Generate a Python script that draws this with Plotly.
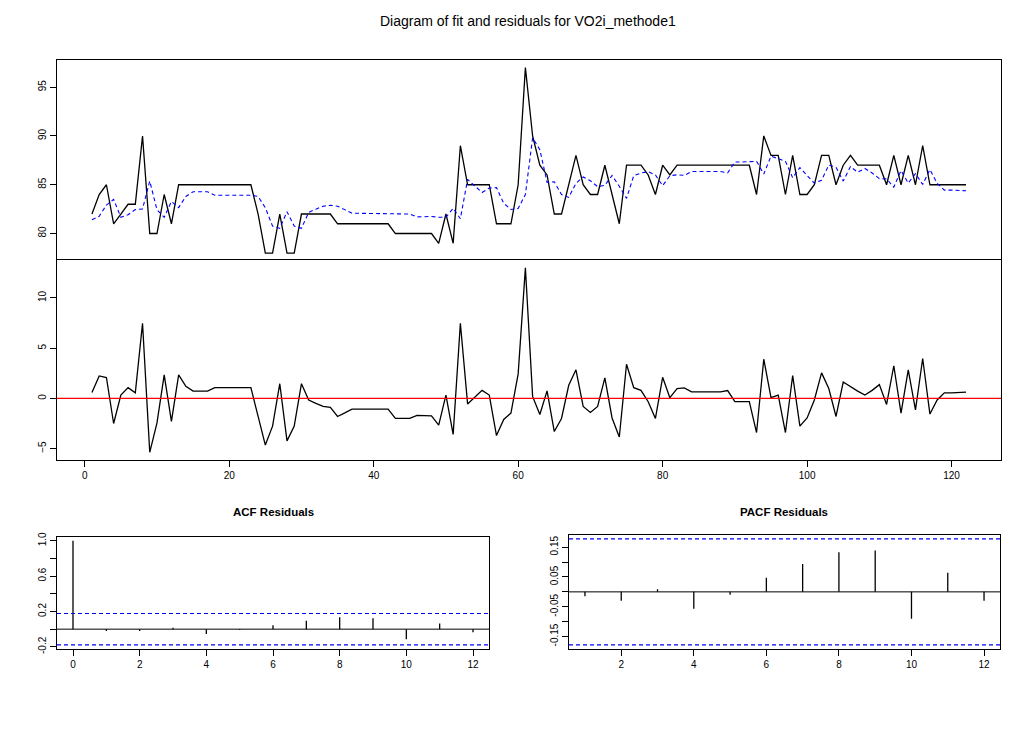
import plotly.graph_objects as go

W, H = 1024, 731

# ---------------- data ----------------
t = list(range(1, 123))
actual = [82, 84, 85, 81, 82, 83, 83, 90, 80, 80,
          84, 81, 85, 85, 85, 85, 85, 85, 85, 85,
          85, 85, 85, 82, 78, 78, 82, 78, 78, 82,
          82, 82, 82, 82, 81, 81, 81, 81, 81, 81,
          81, 81, 80, 80, 80, 80, 80, 80, 79, 82,
          79, 89, 85, 85, 85, 85, 81, 81, 81, 85,
          97, 90, 87, 86, 82, 82, 85, 88, 85, 84,
          84, 87, 84, 81, 87, 87, 87, 86, 84, 87,
          86, 87, 87, 87, 87, 87, 87, 87, 87, 87,
          87, 87, 84, 90, 88, 88, 84, 88, 84, 84,
          85, 88, 88, 85, 87, 88, 87, 87, 87, 87,
          85, 88, 85, 88, 85, 89, 85, 85, 85, 85,
          85, 85]
fitted = [81.41, 81.76, 82.92, 83.50, 81.67, 81.93, 82.45, 82.52, 85.37, 82.44,
          81.66, 83.28, 82.66, 83.80, 84.28, 84.28, 84.28, 83.93, 83.93, 83.93,
          83.93, 83.93, 83.93, 83.80, 82.65, 80.76, 80.54, 82.23, 80.76, 80.54,
          82.16, 82.50, 82.80, 82.90, 82.80, 82.45, 82.07, 82.07, 82.07, 82.07,
          82.07, 82.07, 82.00, 82.00, 82.00, 81.70, 81.70, 81.75, 81.67, 81.67,
          82.58, 81.52, 85.55, 84.90, 84.20, 84.67, 84.70, 83.10, 82.46, 82.56,
          84.00, 89.80, 88.60, 85.25, 85.30, 84.00, 83.70, 85.15, 85.80, 85.40,
          84.80, 84.95, 85.95, 84.84, 83.60, 85.93, 86.20, 86.33, 86.00, 84.90,
          85.93, 86.02, 85.96, 86.35, 86.35, 86.35, 86.35, 86.35, 86.22, 87.33,
          87.33, 87.33, 87.40, 86.10, 87.93, 87.67, 87.40, 85.72, 86.76, 85.95,
          85.16, 85.46, 87.02, 86.80, 85.37, 86.86, 86.28, 86.67, 86.20, 85.63,
          85.60, 84.75, 86.46, 85.17, 86.14, 85.03, 86.56, 85.16, 84.45, 84.45,
          84.45, 84.38]
residuals = [0.59, 2.24, 2.08, -2.50, 0.33, 1.07, 0.55, 7.48, -5.37, -2.44,
             2.34, -2.28, 2.34, 1.20, 0.72, 0.72, 0.72, 1.07, 1.07, 1.07,
             1.07, 1.07, 1.07, -1.80, -4.65, -2.76, 1.46, -4.23, -2.76, 1.46,
             -0.16, -0.50, -0.80, -0.90, -1.80, -1.45, -1.07, -1.07, -1.07, -1.07,
             -1.07, -1.07, -2.00, -2.00, -2.00, -1.70, -1.70, -1.75, -2.67, 0.33,
             -3.58, 7.48, -0.55, 0.10, 0.80, 0.33, -3.70, -2.10, -1.46, 2.44,
             13.00, 0.20, -1.60, 0.75, -3.30, -2.00, 1.30, 2.85, -0.80, -1.40,
             -0.80, 2.05, -1.95, -3.84, 3.40, 1.07, 0.80, -0.33, -2.00, 2.10,
             0.07, 0.98, 1.04, 0.65, 0.65, 0.65, 0.65, 0.65, 0.78, -0.33,
             -0.33, -0.33, -3.40, 3.90, 0.07, 0.33, -3.40, 2.28, -2.76, -1.95,
             -0.16, 2.54, 0.98, -1.80, 1.63, 1.14, 0.72, 0.33, 0.80, 1.37,
             -0.60, 3.25, -1.46, 2.83, -1.14, 3.97, -1.56, -0.16, 0.55, 0.55,
             0.55, 0.62]

acf_lags = [0, 1, 2, 3, 4, 5, 6, 7, 8, 9, 10, 11, 12]
acf_vals = [1.0, -0.02, -0.02, 0.015, -0.055, -0.01, 0.045, 0.095, 0.135, 0.125, -0.115, 0.063, -0.035]
pacf_lags = [1, 2, 3, 4, 5, 6, 7, 8, 9, 10, 11, 12]
pacf_vals = [-0.015, -0.03, 0.009, -0.057, -0.01, 0.047, 0.094, 0.133, 0.139, -0.09, 0.064, -0.03]
ci = 0.178

top_yticks = [80, 85, 90, 95]
res_yticks = [-5, 0, 5, 10]
time_xticks = [0, 20, 40, 60, 80, 100, 120]
acf_yticks = [-0.2, 0.0, 0.2, 0.4, 0.6, 0.8, 1.0]
acf_ytext = ["-0.2", "", "0.2", "", "0.6", "", "1.0"]
pacf_yticks = [-0.15, -0.10, -0.05, 0.0, 0.05, 0.10, 0.15]
pacf_ytext = ["-0.15", "", "-0.05", "", "0.05", "", "0.15"]
acf_xticks = [0, 2, 4, 6, 8, 10, 12]
pacf_xticks = [2, 4, 6, 8, 10, 12]

title = "Diagram of fit and residuals for VO2i_methode1"


def pad(lo, hi, f=0.04):
    d = (hi - lo) * f
    return [lo - d, hi + d]


def spikes(xs, ys):
    X, Y = [], []
    for a, b in zip(xs, ys):
        X += [a, a, None]
        Y += [0, b, None]
    return X, Y


FONT = "Liberation Sans, Arial, sans-serif"
fig = go.Figure()

fig.add_trace(go.Scatter(x=t, y=actual, mode="lines", line=dict(color="black", width=1.3),
                         xaxis="x", yaxis="y", showlegend=False, hoverinfo="skip"))
fig.add_trace(go.Scatter(x=t, y=fitted, mode="lines", line=dict(color="#0000FF", width=1.1, dash="4px,3px"),
                         xaxis="x", yaxis="y", showlegend=False, hoverinfo="skip"))
fig.add_trace(go.Scatter(x=t, y=residuals, mode="lines", line=dict(color="black", width=1.3),
                         xaxis="x2", yaxis="y2", showlegend=False, hoverinfo="skip"))
ax, ay = spikes(acf_lags, acf_vals)
fig.add_trace(go.Scatter(x=ax, y=ay, mode="lines", line=dict(color="black", width=1.3),
                         xaxis="x3", yaxis="y3", showlegend=False, hoverinfo="skip"))
px_, py_ = spikes(pacf_lags, pacf_vals)
fig.add_trace(go.Scatter(x=px_, y=py_, mode="lines", line=dict(color="black", width=1.3),
                         xaxis="x4", yaxis="y4", showlegend=False, hoverinfo="skip"))


def dx(a, b):
    return [a / W, b / W]


def dy(top, bot):
    return [1 - bot / H, 1 - top / H]


common = dict(showline=True, mirror=True, linecolor="black", linewidth=1, showgrid=False,
              zeroline=False, ticks="outside", ticklen=6, tickcolor="black", tickwidth=1,
              tickfont=dict(family=FONT, size=10, color="black"))

xr = pad(min(t), max(t))
fig.update_layout(
    width=W, height=H, margin=dict(l=0, r=0, t=0, b=0),
    paper_bgcolor="white", plot_bgcolor="white",
    xaxis=dict(common, domain=dx(57, 1001), range=xr, showticklabels=False, ticks="",
               side="top", mirror=False),
    yaxis=dict(common, domain=dy(56, 259), range=pad(min(actual), max(actual)),
               tickvals=top_yticks, tickangle=-90),
    xaxis2=dict(common, domain=dx(57, 1001), range=xr, anchor="y2", tickvals=time_xticks),
    yaxis2=dict(common, domain=dy(259, 461), range=pad(min(residuals), max(residuals)),
                anchor="x2", tickvals=res_yticks, tickangle=-90),
    xaxis3=dict(common, domain=dx(57, 489), range=pad(0, 12), anchor="y3", tickvals=acf_xticks),
    yaxis3=dict(common, domain=dy(539, 653), range=pad(-ci, 1.0), anchor="x3",
                tickvals=acf_yticks, ticktext=acf_ytext, tickangle=-90),
    xaxis4=dict(common, domain=dx(569, 1000), range=pad(1, 12), anchor="y4", tickvals=pacf_xticks),
    yaxis4=dict(common, domain=dy(537, 653), range=pad(-ci, ci), anchor="x4",
                tickvals=pacf_yticks, ticktext=pacf_ytext, tickangle=-90),
)

shapes = [
    dict(type="line", xref="x2 domain", yref="y2", x0=0, x1=1, y0=0, y1=0,
         line=dict(color="red", width=1.3)),
    dict(type="line", xref="x3 domain", yref="y3", x0=0, x1=1, y0=0, y1=0,
         line=dict(color="black", width=1)),
    dict(type="line", xref="x4 domain", yref="y4", x0=0, x1=1, y0=0, y1=0,
         line=dict(color="black", width=1)),
]
for ref in ["3", "4"]:
    for s in [ci, -ci]:
        shapes.append(dict(type="line", xref="x%s domain" % ref, yref="y" + ref, x0=0, x1=1, y0=s, y1=s,
                           line=dict(color="#0000FF", width=1.1, dash="4px,3px")))
fig.update_layout(shapes=shapes)

fig.add_annotation(text=title, xref="paper", yref="paper", x=528 / W, y=1 - 16 / H,
                   showarrow=False, font=dict(family=FONT, size=14, color="black"),
                   xanchor="center", yanchor="middle")
fig.add_annotation(text="<b>ACF Residuals</b>", xref="paper", yref="paper", x=273 / W, y=1 - 514 / H,
                   showarrow=False, font=dict(family=FONT, size=11.5, color="black"),
                   xanchor="center", yanchor="middle")
fig.add_annotation(text="<b>PACF Residuals</b>", xref="paper", yref="paper", x=784 / W, y=1 - 514 / H,
                   showarrow=False, font=dict(family=FONT, size=11.5, color="black"),
                   xanchor="center", yanchor="middle")

fig.write_html("out.html", config={"displayModeBar": False},
               post_script="document.body.style.margin='0px';")
